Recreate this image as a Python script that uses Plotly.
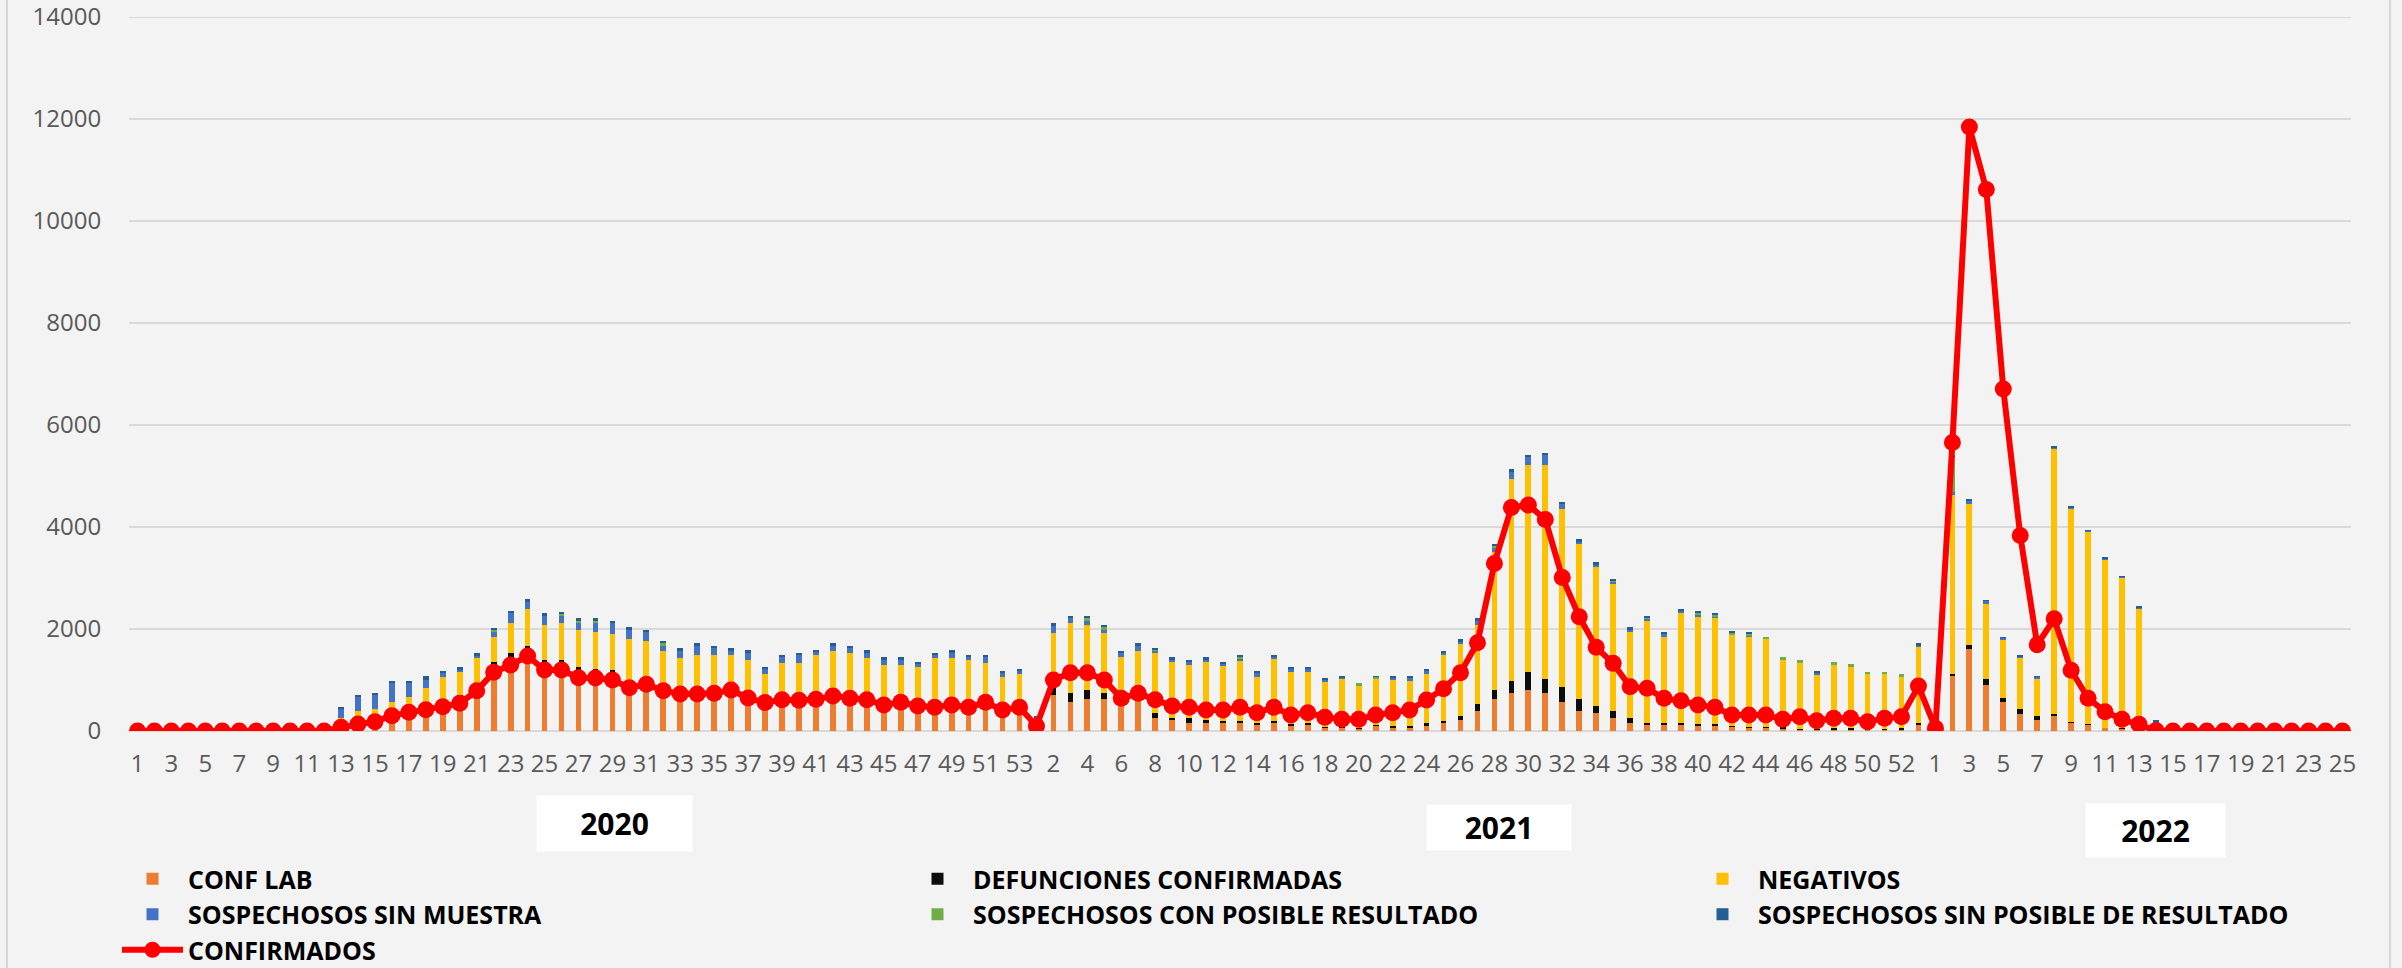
import plotly.graph_objects as go

# ---------------- categories (epidemiological weeks) ----------------
weeks_2020 = list(range(1, 54))
weeks_2021 = list(range(1, 54))
weeks_2022 = list(range(1, 26))
year_labels = ["2020", "2021", "2022"]

# ---------------- series values ----------------
conf_lab = [
    0, 0, 0, 0, 0, 0, 0, 0, 0, 0, 0, 0,
    90, 190, 240, 360, 430, 480, 585, 670, 890, 1290, 1424, 1620, 1346, 1346, 1209, 1183,
    1156, 930, 1020, 880, 790, 790, 800, 860, 710, 620, 670, 665, 680, 745, 700, 675,
    570, 620, 550, 525, 570, 525, 620, 470, 525,
    50, 705, 575, 621, 621, 600, 650, 248, 216, 150, 163, 150, 150, 118, 150, 100, 118,
    60, 60, 40, 100, 52, 52, 111, 150, 216, 398, 621, 751, 804, 751, 575, 392, 346, 261,
    163, 118, 118, 118, 98, 98, 80, 60, 60, 40, 20, 20, 30, 30, 20, 20, 20, 120,
    0, 1075, 1610, 900, 570, 335, 210, 300, 175, 135, 65, 50, 20, 0,
    0, 0, 0, 0, 0, 0, 0, 0, 0, 0, 0,
]
defunciones = [
    0, 0, 0, 0, 0, 0, 0, 0, 0, 0, 0, 0,
    2, 5, 8, 10, 15, 18, 23, 35, 44, 56, 111, 46, 46, 46, 39, 35, 40, 37, 45, 41, 40, 40,
    40, 40, 35, 30, 30, 30, 30, 30, 30, 30, 30, 30, 28, 28, 28, 28, 28, 25, 25,
    10, 131, 176, 183, 130, 80, 70, 98, 45, 111, 53, 53, 53, 45, 53, 30, 45, 20, 20, 15,
    20, 46, 46, 39, 53, 78, 131, 183, 229, 359, 268, 281, 229, 144, 131, 85, 45, 45, 32,
    39, 32, 20, 20, 15, 30, 10, 20, 20, 25, 15, 15, 32, 37,
    0, 45, 85, 113, 85, 90, 84, 40, 10, 5, 3, 2, 2, 0,
    0, 0, 0, 0, 0, 0, 0, 0, 0, 0, 0,
]
negativos = [
    0, 0, 0, 0, 0, 0, 0, 0, 0, 0, 0, 0,
    169, 197, 190, 205, 215, 351, 457, 458, 503, 503, 580, 725, 686, 718, 731, 729, 705,
    836, 699, 653, 607, 660, 650, 590, 647, 467, 639, 635, 780, 793, 792, 732, 694, 644,
    676, 884, 839, 839, 691, 570, 567,
    140, 1091, 1359, 1273, 1176, 764, 848, 1176, 1085, 1033, 1130, 1091, 1175, 902, 1221,
    1033, 1000, 900, 946, 840, 906, 902, 889, 967, 1280, 1405, 1548, 2711, 3959, 4050,
    4194, 3489, 3044, 2718, 2502, 1686, 1999, 1686, 2156, 2117, 2078, 1781, 1769, 1722,
    1322, 1296, 1077, 1244, 1193, 1076, 1076, 1006, 1496,
    0, 3505, 2755, 1477, 1145, 1012, 738, 5193, 4179, 3767, 3288, 2948, 2373, 50,
    0, 0, 0, 0, 0, 0, 0, 0, 0, 0, 0,
]
sin_muestra = [
    0, 0, 0, 0, 0, 0, 0, 0, 0, 0, 0, 0,
    183, 281, 281, 359, 274, 151, 78, 52, 53, 85, 191, 144, 183, 151, 144, 176, 222, 196,
    183, 92, 151, 189, 130, 98, 156, 111, 118, 173, 65, 118, 111, 105, 117, 117, 72, 72,
    111, 65, 118, 78, 65,
    55, 150, 111, 85, 52, 98, 118, 66, 65, 52, 59, 32, 46, 78, 33, 65, 65, 20, 19, 0, 0,
    32, 45, 65, 52, 65, 99, 65, 157, 164, 216, 97, 59, 65, 33, 59, 40, 65, 65, 39, 42, 0,
    26, 0, 0, 0, 26, 0, 0, 0, 0, 0, 27,
    0, 65, 70, 60, 25, 28, 28, 27, 21, 23, 29, 20, 25, 140,
    0, 0, 0, 0, 0, 0, 0, 0, 0, 0, 0,
]
con_posible = [
    0, 0, 0, 0, 0, 0, 0, 0, 0, 0, 0, 0,
    0, 0, 0, 0, 0, 0, 0, 0, 0, 58, 0, 0, 0, 45, 53, 53, 0, 0, 0, 53,
    0, 0, 0, 0, 0, 0, 0, 0, 0, 0, 0, 0, 0, 0, 0, 0, 0, 0, 0, 0, 0,
    0, 0, 0, 46, 66, 0, 0, 13, 0, 0, 0, 0, 33, 0, 0, 0, 0, 0, 0, 39, 39, 0, 0, 0, 0, 0,
    0, 65, 0, 0, 0, 0, 0, 0, 33, 0, 25, 0, 0, 33, 30, 54, 26, 52, 52, 66, 0, 52, 59, 52,
    52, 59, 0,
    0, 690, 0, 0, 0, 0, 0, 0, 0, 0, 0, 0, 0, 0,
    0, 0, 0, 0, 0, 0, 0, 0, 0, 0, 0,
]
sin_posible = [
    0, 0, 0, 0, 0, 0, 0, 0, 0, 0, 0, 0,
    33, 33, 32, 46, 46, 78, 33, 39, 32, 33, 46, 45, 45, 33, 32, 32, 39, 33, 32, 45, 32,
    39, 46, 39, 33, 33, 33, 32, 33, 32, 33, 39, 33, 33, 26, 26, 33, 33, 33, 33, 33,
    26, 33, 33, 46, 32, 32, 32, 26, 33, 46, 39, 26, 33, 33, 33, 33, 33, 32, 33, 0, 13,
    46, 46, 33, 39, 39, 32, 20, 32, 32, 26, 40, 39, 33, 19, 39, 33, 33, 20, 32, 26, 12,
    46, 0, 0, 0, 33, 0, 0, 0, 0, 0, 38,
    0, 20, 20, 18, 15, 12, 15, 13, 12, 10, 12, 10, 14, 10,
    0, 0, 0, 0, 0, 0, 0, 0, 0, 0, 0,
]
confirmados = [
    0, 0, 0, 0, 0, 0, 0, 0, 0, 0, 0, 0,
    72, 137, 183, 301, 366, 418, 477, 542, 791, 1150, 1294, 1470, 1196, 1196, 1046, 1039,
    1000, 849, 915, 791, 725, 725, 738, 804, 645, 558, 611, 605, 621, 686, 640, 614, 510,
    562, 490, 464, 510, 464, 562, 412, 464,
    98, 1000, 1143, 1143, 1000, 640, 738, 614, 490, 464, 412, 412, 464, 360, 464, 314,
    360, 268, 229, 229, 314, 360, 412, 610, 830, 1143, 1731, 3286, 4384, 4430, 4149, 3012,
    2241, 1640, 1326, 869, 836, 640, 595, 510, 464, 314, 314, 314, 229, 281, 203, 248,
    248, 183, 248, 281, 880,
    55, 5655, 11841, 10616, 6705, 3834, 1691, 2199, 1192, 641, 378, 229, 133, 10,
    0, 0, 0, 0, 0, 0, 0, 0, 0, 0, 0,
]
y_ticks = [0, 2000, 4000, 6000, 8000, 10000, 12000, 14000]

# ---------------- build category axis ----------------
cats, week_text = [], []
for yr, wks in zip(year_labels, (weeks_2020, weeks_2021, weeks_2022)):
    for w in wks:
        cats.append(f"{yr}-{w}")
        week_text.append(str(w))

W, H = 2402, 968
ML, MR, MT, MB = 129, 51, 17, 237
PW, PH = W - ML - MR, H - MT - MB


def px_x(p):
    return (p - ML) / PW


def px_y(p):
    return (H - MB - p) / PH


bar_series = [
    ("CONF LAB", conf_lab, "#ED7D31"),
    ("DEFUNCIONES CONFIRMADAS", defunciones, "#0D0D0D"),
    ("NEGATIVOS", negativos, "#FFC000"),
    ("SOSPECHOSOS SIN MUESTRA", sin_muestra, "#4472C4"),
    ("SOSPECHOSOS CON POSIBLE RESULTADO", con_posible, "#70AD47"),
    ("SOSPECHOSOS SIN POSIBLE DE RESULTADO", sin_posible, "#255E91"),
]

fig = go.Figure()
for name, vals, col in bar_series:
    fig.add_trace(go.Bar(x=cats, y=vals, name=name, marker=dict(color=col, line=dict(width=0))))

fig.add_trace(go.Scatter(
    x=cats, y=confirmados, name="CONFIRMADOS", mode="lines+markers",
    line=dict(color="#FF0000", width=6),
    marker=dict(color="#FF0000", size=17),
))

font_main = "Open Sans, Noto Sans, Liberation Sans, sans-serif"

fig.update_layout(
    width=W, height=H,
    margin=dict(l=ML, r=MR, t=MT, b=MB, autoexpand=False),
    paper_bgcolor="#f3f3f3",
    plot_bgcolor="rgba(0,0,0,0)",
    barmode="stack",
    bargap=0.66,
    font=dict(family=font_main, color="#595959"),
    showlegend=True,
    legend=dict(
        orientation="h",
        x=px_x(117), xanchor="left",
        y=px_y(856), yanchor="top",
        entrywidth=709, entrywidthmode="pixels",
        itemwidth=61,
        font=dict(family=font_main, size=25, color="#000000", weight="bold"),
        bgcolor="rgba(0,0,0,0)",
        traceorder="normal",
    ),
    xaxis=dict(
        type="category",
        categoryorder="array", categoryarray=cats,
        tickmode="array", tickvals=cats[::2], ticktext=week_text[::2],
        tickfont=dict(size=24, color="#595959"),
        ticks="outside", ticklen=11, tickcolor="rgba(0,0,0,0)",
        showgrid=False, showline=False, zeroline=False,
        range=[-0.5, len(cats) - 0.5],
    ),
    yaxis=dict(
        range=[0, 14000], tickmode="array", tickvals=y_ticks,
        ticktext=[str(v) for v in y_ticks],
        ticklabeloverflow="allow",
        tickfont=dict(size=24, color="#595959"),
        ticks="outside", ticklen=22, tickcolor="rgba(0,0,0,0)",
        showgrid=True, gridcolor="#d9d9d9", gridwidth=2,
        zeroline=True, zerolinecolor="#d9d9d9", zerolinewidth=2,
        showline=False,
    ),
)

# top gridline at the upper range limit
fig.add_shape(type="line", xref="paper", yref="y", x0=0, x1=1, y0=y_ticks[-1], y1=y_ticks[-1],
              line=dict(color="#d9d9d9", width=2), layer="below")

# chart-area border lines (left / right)
for xb in (7, 2390):
    fig.add_shape(type="line", xref="paper", yref="paper",
                  x0=px_x(xb), x1=px_x(xb), y0=px_y(H), y1=px_y(0),
                  line=dict(color="#d6d6d6", width=2), layer="below")

# year labels in white boxes
year_boxes = [
    ("2020", 614.5, 823, 155, 55),
    ("2021", 1499, 827, 144, 45),
    ("2022", 2155.5, 830, 139, 53),
]
for txt, cx, cy, bw, bh in year_boxes:
    fig.add_annotation(
        text=f"<b>{txt}</b>", xref="paper", yref="paper",
        x=px_x(cx), y=px_y(cy), xanchor="center", yanchor="middle",
        showarrow=False, bgcolor="#ffffff", width=bw, height=bh, borderpad=0,
        font=dict(family=font_main, size=30, color="#000000"),
    )

fig.write_html(
    "out.html",
    config={"displayModeBar": False},
    post_script="document.body.style.margin='0px';document.body.style.overflow='hidden';",
)
